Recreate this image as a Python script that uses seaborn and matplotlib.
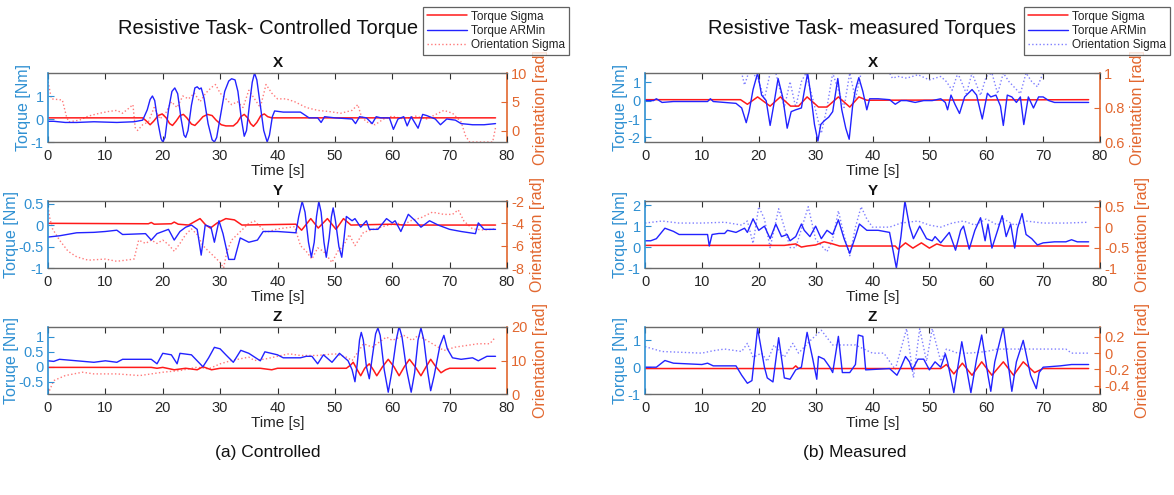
import matplotlib
matplotlib.use("Agg")
import matplotlib.pyplot as plt
from matplotlib.lines import Line2D
import seaborn as sns

sns.set_theme(style="white")
plt.rcParams["font.family"] = ["Liberation Sans", "DejaVu Sans"]

# ---------------- Controlled torque: X ----------------
ctrl_x_sig_t = [0, 16.5, 17.2, 17.8, 18.4, 19.2, 19.9, 20.6, 21.2, 21.7, 22.3, 23.0, 23.6, 24.2, 25.0, 25.6, 26.3,
                27.0, 27.8, 28.6, 29.3, 30.2, 31.0, 32.3, 33.0, 33.6, 34.2, 34.8, 35.3, 35.8, 36.4, 37.1, 37.7, 38.3,
                39.0, 78]
ctrl_x_sig = [0.05, 0.05, -0.1, -0.25, -0.1, 0.15, 0.22, 0.05, -0.2, -0.28, -0.1, 0.15, 0.2, 0.05, -0.22, -0.28,
              -0.1, 0.1, 0.2, 0.15, -0.05, -0.25, -0.3, -0.3, -0.15, 0.1, 0.2, 0.05, -0.2, -0.32, -0.15, 0.15, 0.22,
              0.1, 0.05, 0.05]
ctrl_x_arm_t = [0, 1, 3, 5, 8, 12, 15, 16.5, 17.3, 17.8, 18.2, 18.6, 19.2, 19.7, 20.0, 20.4, 21.0, 21.6, 22.1, 22.6,
                23.2, 23.7, 24.0, 24.4, 25.0, 25.6, 26.0, 26.4, 26.7, 27.2, 27.9, 28.6, 29.0, 29.4, 30.1, 30.8, 31.5,
                32.0, 32.6, 33.1, 33.7, 34.2, 34.6, 35.1, 35.6, 36.0, 36.4, 37.0, 37.6, 38.2, 38.6, 39.1, 39.5, 41,
                44, 45.5, 47, 47.6, 48.2, 50, 53, 53.6, 54.3, 55.5, 56.5, 57.2, 58, 59.5, 60.2, 61, 62, 62.6, 63.3,
                64.5, 65.3, 66, 67.5, 68.4, 69.5, 71, 72, 74, 76, 78]
ctrl_x_arm = [-0.1, -0.1, -0.15, -0.15, -0.12, -0.15, -0.12, -0.05, 0.4, 0.85, 1.0, 0.8, -0.2, -0.85, -1.0, -0.8,
              0.4, 1.2, 1.35, 1.1, 0.0, -0.7, -0.8, -0.5, 0.6, 1.35, 1.4, 1.3, 1.35, 0.9, -0.2, -0.9, -1.0, -0.8, 0.2,
              1.2, 1.65, 1.75, 1.7, 1.2, 0.0, -0.75, -0.5, 0.6, 1.6, 2.0, 1.7, 0.6, -0.5, -1.0, -0.7, 0.1, 0.35, 0.3,
              0.3, 0.05, 0.05, -0.15, 0.1, 0.05, 0.0, -0.2, 0.1, 0.05, -0.2, 0.1, 0.05, 0.05, -0.45, 0.0, 0.1, -0.3,
              0.1, -0.4, 0.2, 0.15, 0.0, -0.25, 0.0, -0.05, -0.2, -0.25, -0.25, -0.2]
ctrl_x_ori_t = [0, 0.3, 0.6, 2.5, 3.2, 3.6, 5.5, 7, 9, 10.5, 12, 13, 14, 14.8, 15.2, 15.6, 16.5, 17.5, 18.5, 19.5,
                20.5, 21.5, 22.5, 23.5, 24.5, 25.5, 26.5, 27.5, 28.5, 29.2, 30, 31, 32, 33, 34, 35, 36, 37, 38, 39,
                40, 41.5, 43, 45, 47, 49, 51, 53, 54, 54.6, 55.5, 57, 58.5, 60, 62, 64, 66, 68, 69, 70.5, 72, 72.8,
                73.5, 75, 77.5, 78]
ctrl_x_ori = [8.5, 7, 5.5, 5.3, 2.5, 1.5, 1.8, 2.5, 3.0, 3.3, 3.5, 3.0, 3.8, 4.5, 0.5, 0.0, 1.0, 1.5, 4.0, 2.0, 3.0,
              5.0, 4.0, 6.0, 5.5, 6.5, 5.0, 6.5, 7.5, 8.0, 6.5, 5.5, 4.5, 5.0, 4.0, 7.0, 5.5, 4.0, 8.0, 6.5, 5.5, 5.5,
              5.0, 4.0, 3.5, 3.3, 3.0, 3.5, 4.5, 2.5, 1.5, 1.0, 2.0, 2.5, 2.0, 2.5, 2.0, 3.0, 3.5, 3.0, 1.5, -1.0,
              -2.0, -2.0, -2.0, 0.5]

# ---------------- Controlled torque: Y ----------------
ctrl_y_sig_t = [0, 17.5, 18, 18.5, 21.5, 22, 22.7, 24.5, 26.5, 27.5, 28.3, 29.5, 31, 32.5, 33.8, 43.2, 44.2, 45.8,
                47.1, 48.7, 50.2, 51.5, 52.8, 60, 62, 78]
ctrl_y_sig = [0.04, 0.03, 0.06, 0.02, 0.03, 0.07, 0.02, 0.0, 0.15, 0.0, -0.07, 0.05, 0.15, 0.12, 0.0, 0.02, -0.12,
              0.15, -0.07, 0.15, -0.1, 0.15, 0.0, 0.02, 0.0, 0.0]
ctrl_y_arm_t = [0, 2, 5, 8, 10, 12, 13, 17, 18, 19, 21, 22, 23, 24, 25, 26, 26.7, 27.4, 28.4, 29.0, 29.8, 30.5, 31.5,
                32.5, 33.5, 35, 36.5, 37.5, 40, 43.2, 43.7, 44.3, 44.8, 45.4, 45.9, 46.4, 46.8, 47.2, 47.6, 48.1,
                48.5, 49.0, 49.4, 49.7, 50.1, 50.7, 51.2, 51.6, 52.0, 53, 53.5, 54.5, 55.5, 56, 57.5, 59, 60, 60.5,
                61.5, 62.8, 64, 65, 66.5, 68, 70, 72, 74.5, 75, 76, 78]
ctrl_y_arm = [-0.28, -0.25, -0.18, -0.17, -0.15, -0.12, -0.22, -0.2, -0.35, -0.2, -0.1, -0.35, -0.15, -0.05, 0.0,
              -0.1, -0.7, 0.0, -0.05, -0.4, 0.1, -0.2, -0.8, -0.8, -0.3, -0.4, -0.35, -0.15, -0.15, -0.18, 0.2, 0.55,
              0.3, -0.4, -0.75, -0.4, 0.2, 0.55, 0.3, -0.4, -0.75, -0.3, 0.2, 0.4, 0.1, -0.5, -0.75, -0.3, 0.2, 0.1,
              0.15, -0.05, 0.1, -0.1, -0.1, 0.15, 0.05, 0.1, -0.15, 0.25, 0.1, -0.05, 0.1, 0.0, -0.1, -0.15, -0.2,
              0.05, -0.1, -0.1]
ctrl_y_ori_t = [0, 0.3, 0.8, 2, 3.5, 5, 7, 10, 12, 15, 15.8, 17, 18, 19, 20, 21, 22, 23, 24, 25, 26, 27, 28, 29, 30,
                30.6, 31.2, 32, 33, 34, 35, 36, 37, 38, 40, 43, 44, 45, 46, 47, 48, 49.5, 50.5, 51.5, 52.5, 53.5, 55,
                57, 59, 61, 62, 63, 65, 67, 69, 70.5, 71.5, 72.5, 74, 76, 78]
ctrl_y_ori = [-2.5, -3.5, -4.5, -5.5, -6.5, -7.0, -7.3, -7.2, -7.4, -7.2, -5.5, -5.8, -5.5, -5.8, -5.5, -5.9, -6.5,
              -5.8, -5.0, -4.5, -5.0, -6.0, -6.5, -7.0, -7.5, -8.0, -6.5, -5.5, -5.0, -4.5, -4.0, -3.8, -4.3, -4.8,
              -4.5, -4.3, -6.0, -6.5, -7.2, -6.2, -6.5, -7.5, -6.5, -6.0, -5.0, -6.0, -4.8, -4.5, -4.2, -4.0, -4.2,
              -3.8, -3.5, -3.0, -3.2, -3.2, -2.8, -3.8, -4.5, -4.6, -4.5]

# ---------------- Controlled torque: Z ----------------
ctrl_z_sig_t = [0, 18, 19, 20, 22, 24, 26, 27, 28.5, 30, 36, 37, 39, 40, 52, 52.7, 53.2, 53.9, 54.5, 55.2, 56.0,
                56.7, 57.3, 58.3, 59.3, 60.3, 61.2, 62.1, 63.0, 64.0, 65.0, 65.9, 66.7, 67.6, 68.5, 69.3, 70, 78]
ctrl_z_sig = [-0.02, -0.02, -0.05, -0.02, -0.1, -0.05, -0.1, 0.0, -0.1, -0.05, -0.05, -0.05, -0.1, -0.05, -0.05,
              0.05, 0.15, -0.1, -0.3, -0.05, 0.1, -0.1, -0.3, 0.0, 0.25, 0.0, -0.3, 0.0, 0.25, 0.0, -0.3, 0.0, 0.25,
              0.0, -0.2, -0.1, -0.05, -0.05]
ctrl_z_arm_t = [0, 1, 2, 5, 8, 10, 12, 13, 18, 19, 20, 21.5, 22.5, 23, 25, 26.5, 27, 28, 29, 30, 31, 32.3, 33.6, 35,
                37, 37.8, 40, 41, 44, 45, 46, 47, 48, 49.5, 50.8, 52.3, 53.0, 53.5, 53.9, 54.3, 54.6, 54.95, 55.5,
                56.0, 56.5, 57.1, 57.5, 57.9, 58.6, 59.3, 59.9, 60.7, 61.2, 61.7, 62.5, 63.3, 63.9, 64.5, 65.0, 65.5,
                66.2, 66.7, 67.3, 68.3, 69.0, 69.6, 70.5, 72, 74, 75, 76.5, 78]
ctrl_z_arm = [0.2, 0.18, 0.25, 0.2, 0.15, 0.2, 0.15, 0.25, 0.25, 0.1, 0.45, 0.4, 0.1, 0.45, 0.4, 0.1, 0.0, 0.3, 0.65,
              0.6, 0.4, 0.15, 0.55, 0.45, 0.2, 0.5, 0.4, 0.3, 0.3, 0.35, 0.35, 0.1, 0.4, 0.15, 0.45, 0.2, -0.1, -0.5,
              0.1, 0.9, 1.15, 0.9, 0.0, -0.4, 0.3, 1.1, 1.3, 1.05, -0.1, -0.85, -0.2, 0.9, 1.35, 1.0, -0.1, -0.85,
              -0.2, 0.9, 1.3, 0.9, -0.2, -0.8, -0.3, 0.7, 1.05, 0.6, 0.3, 0.25, 0.3, 0.2, 0.35, 0.35]
ctrl_z_ori_t = [0, 0.5, 1, 3, 6, 8, 12, 16, 20, 23, 26, 28, 30, 32, 35, 36, 38, 42, 44, 47, 50, 52, 53, 55, 56.5, 59,
                60, 62, 63.5, 64.5, 67, 69, 71, 73, 75, 77, 78]
ctrl_z_ori = [0, 2, 4, 5.5, 6.5, 6, 6, 5.5, 6.5, 7, 8, 7.5, 9, 10, 11, 10, 10.5, 12, 11.5, 11.5, 12, 11, 10, 15, 14,
              17, 16, 17.5, 16, 17.5, 15, 13, 14, 14.5, 15, 15, 17]

# ---------------- Measured torques: X ----------------
meas_x_sig_t = [0, 16.8, 18.0, 19.8, 22.0, 23.8, 25.6, 27.0, 28.5, 30.5, 32.0, 34.0, 36.0, 37.6, 39.0, 78]
meas_x_sig = [0.05, 0.05, -0.2, 0.2, -0.3, 0.2, -0.3, -0.3, 0.2, -0.35, -0.35, 0.2, -0.35, 0.2, 0.02, 0.05]
meas_x_arm_t = [0, 1.5, 2, 3, 5, 8, 11, 11.5, 12, 14, 16, 17, 17.8, 18.3, 19.0, 19.8, 20.5, 21.3, 22.0, 22.6, 23.4,
                24.2, 25.0, 25.7, 26.5, 27.5, 28.0, 28.6, 29.2, 29.8, 30.4, 30.9, 31.5, 32.3, 33.0, 33.9, 34.6, 35.3,
                35.9, 36.5, 37.0, 37.6, 38.3, 39.0, 39.5, 41, 43, 44, 45, 46, 47.5, 49, 50.5, 52, 52.8, 53.2, 53.8,
                54.5, 55.3, 56.2, 57.5, 58.3, 59.3, 60.2, 60.8, 61.7, 62.5, 63.0, 63.7, 64.5, 65.3, 66.0, 66.6, 67.4,
                68.3, 69.2, 70, 71, 72, 75, 78]
meas_x_arm = [0.0, 0.0, 0.1, -0.1, -0.05, -0.05, -0.05, 0.1, -0.05, -0.1, -0.15, -0.4, -1.2, -0.6, 0.6, 1.5, 0.3,
              0.0, -1.35, -0.3, 1.2, 0.2, -1.5, -0.6, -0.5, -0.4, 0.5, 1.5, 0.2, -1.3, -2.2, -1.3, -1.1, -0.9, -0.6,
              1.2, -0.5, -1.5, -2.1, -0.3, 0.6, 1.25, 0.5, -0.5, 0.1, 0.1, 0.05, -0.2, 0.0, 0.0, -0.1, 0.0, 0.0, 0.1,
              -0.1, -0.5, 0.3, -0.2, -0.7, 0.2, 0.6, 0.3, -1.0, 0.4, 0.2, 0.3, -0.3, -1.35, 0.3, 0.2, -0.1, 0.2,
              -1.3, 0.2, -0.4, 0.2, 0.2, 0.0, -0.1, -0.1, -0.1]
meas_x_ori_t = [0, 17, 17.5, 18.2, 19, 20, 21, 22, 23, 24.5, 25.5, 26.5, 27.5, 28.3, 29.5, 31, 32, 33, 35, 36, 37, 38,
                39, 43, 43.5, 44.5, 46, 48, 50, 52, 53, 54, 55, 56.5, 57.5, 59, 60, 61, 62, 63, 64, 66, 67, 68, 69,
                70, 78]
meas_x_ori = [1.0, 1.0, 0.93, 1.0, 1.0, 0.95, 0.85, 1.0, 1.0, 0.8, 0.95, 0.8, 0.95, 1.0, 0.85, 0.65, 0.8, 1.0, 0.8,
              1.0, 0.85, 1.0, 1.0, 1.0, 0.97, 0.98, 0.97, 0.99, 0.96, 0.98, 0.95, 0.9, 1.0, 0.88, 1.0, 0.87, 0.98,
              1.0, 0.88, 1.0, 0.95, 0.88, 1.0, 0.95, 0.92, 1.0, 1.0]

# ---------------- Measured torques: Y ----------------
meas_y_sig_t = [0, 24.5, 26.5, 27.5, 28.5, 30, 31.5, 33, 34.2, 44, 44.5, 45.8, 47.1, 48.6, 50, 51.3, 52.5, 78]
meas_y_sig = [0.08, 0.08, 0.15, 0.0, 0.05, 0.1, 0.25, 0.15, 0.05, 0.05, -0.1, 0.2, -0.05, 0.2, -0.05, 0.15, 0.05, 0.05]
meas_y_arm_t = [0, 1, 2, 3.5, 5, 6, 11, 11.3, 11.8, 13, 14, 14.5, 16, 17.5, 18, 19, 20, 21, 22, 23, 24, 25, 25.5,
                26.5, 27.5, 28, 29, 30, 31, 32, 33, 34, 35, 36, 37, 37.7, 39, 41, 43, 44.2, 45, 45.7, 46.5, 47.2,
                48.3, 49.5, 50.5, 51, 52, 53.5, 54.6, 55.5, 56, 57, 58, 59, 59.8, 60.3, 61, 62, 62.8, 63.5, 64.3, 65,
                65.5, 66.3, 67, 68, 69, 70, 72, 74, 75, 76, 78]
meas_y_arm = [0.3, 0.3, 0.4, 0.9, 0.75, 0.6, 0.6, 0.05, 0.6, 0.65, 0.65, 0.8, 0.7, 0.9, 0.7, 1.35, 0.8, 1.0, 0.4,
              1.1, 0.5, 0.6, 0.3, 0.5, 1.1, 0.8, 0.5, 1.0, 0.4, 0.8, 0.6, 1.3, 0.4, -0.3, 0.5, 1.1, 0.8, 0.8, 0.7,
              -1.0, 0.5, 2.2, 1.0, 0.4, 1.0, 0.4, 0.3, 0.5, 0.2, 0.7, -0.15, 0.8, 1.0, -0.1, 0.8, 1.4, 0.3, 1.1,
              -0.05, 0.8, 1.5, 0.5, 1.1, -0.05, 0.9, 1.6, 0.6, 0.4, 0.1, 0.2, 0.25, 0.25, 0.35, 0.25, 0.25]
meas_y_ori_t = [0, 3, 6, 10, 14, 17, 18, 19, 20, 21, 22, 23.5, 24.5, 25.5, 26.5, 28.7, 30, 32, 33, 34, 35, 36, 37, 38,
                39, 40, 43, 45, 48, 50, 52, 54, 56, 58, 60, 62, 63, 65, 67, 70, 74, 78]
meas_y_ori = [0.1, 0.15, 0.1, 0.1, 0.12, 0.05, 0.15, -0.4, 0.5, 0.2, -0.5, 0.45, 0.0, -0.5, -0.5, 0.5, -0.3, -0.6,
              -0.3, 0.4, -0.2, -0.7, 0.0, 0.5, 0.2, 0.0, 0.0, 0.1, 0.15, 0.05, 0.0, 0.1, 0.15, 0.05, 0.2, 0.05, 0.2,
              0.05, 0.15, 0.1, 0.1, 0.12]

# ---------------- Measured torques: Z ----------------
meas_z_sig_t = [0, 17, 26, 26.5, 27, 52, 53, 54.3, 55.8, 57.5, 59.2, 61, 63, 64.8, 66.5, 68.5, 70, 78]
meas_z_sig = [-0.05, -0.05, -0.05, 0.05, -0.05, -0.05, 0.1, -0.25, 0.15, -0.3, 0.2, -0.3, 0.2, -0.3, 0.2, -0.2,
              -0.05, -0.05]
meas_z_arm_t = [0, 2, 3.5, 5, 10, 11, 12, 16, 17, 18, 18.8, 19.8, 21, 21.5, 22.5, 23.5, 24.5, 25.5, 26.5, 27.5, 28.5,
                29.5, 30.2, 30.5, 31.5, 32.5, 33, 34, 34.7, 36, 37, 37.5, 38.3, 38.8, 43, 44.3, 45, 45.8, 46.5, 47,
                48, 49, 50, 51, 52, 52.8, 53.2, 54.3, 55.7, 57.3, 58.3, 59.2, 60.3, 60.8, 61.5, 63, 64.5, 65.3, 66.5,
                67.8, 68.8, 69.3, 70, 73, 75, 78]
meas_z_arm = [0, 0, 0.25, 0.15, 0.1, 0.15, 0.05, 0.05, -0.3, -0.6, -0.5, 1.45, 0, -0.4, -0.55, 1.1, -0.4, -0.45,
              -0.1, 0, 1.3, 0.3, -0.45, 0.4, 0.3, 0, -0.2, 1.15, -0.2, -0.2, 0.1, 1.2, 1.15, -0.1, -0.05, -0.3, 0,
              0.4, 0.2, -0.1, 0.3, 0.3, -0.1, 0.2, 0, 0.5, 0.2, -0.95, 0.95, -0.95, 0.3, 1.2, -0.3, -0.9, 0.2, 1.5,
              -0.9, 0.2, 1.0, -0.3, -0.8, -0.2, 0, 0.05, 0.1, 0.1]
meas_z_ori_t = [0, 3, 10, 12, 14, 17, 18, 19, 20.5, 21.5, 22.7, 24.5, 26, 27, 29, 31, 33, 37, 40, 42, 44, 46, 47.2,
                48.3, 49.5, 50.5, 52, 53, 55, 57, 60, 62, 65, 70, 74, 75, 78]
meas_z_ori = [0.08, 0.02, 0.0, 0.03, 0.05, 0.02, 0.12, -0.05, 0.0, -0.1, 0.1, -0.05, 0.12, 0.0, 0.15, 0.28, 0.1, 0.1,
              0.0, 0.0, -0.2, 0.3, -0.3, 0.3, -0.1, 0.3, -0.1, 0.05, 0.0, 0.0, 0.02, 0.05, 0.05, 0.05, 0.05, 0.0, 0.0]

# ---------------- Text ----------------
legend_labels = ["Torque Sigma", "Torque ARMin", "Orientation Sigma"]
time_ticks = [0, 10, 20, 30, 40, 50, 60, 70, 80]

C_LEFT = "#2f90d2"
C_RIGHT = "#e2672f"
C_FRAME = "#6a6a6a"
C_SIG = "#ff1a1a"
C_ARM = "#2222ff"
C_ORI_RED = "#ff7a7a"
C_ORI_BLUE = "#7f7fff"

W, H = 1174, 495
fig = plt.figure(figsize=(W / 100, H / 100), dpi=100)


def rect(x0, x1, y0, y1):
    return [x0 / W, 1 - y1 / H, (x1 - x0) / W, (y1 - y0) / H]


def fmt(v):
    return ("%g" % v)


def panel(r, title, ylabel, sig, arm, ori, ori_color, lim_l, ticks_l, lim_r, ticks_r):
    ax = fig.add_axes(r)
    ax2 = ax.twinx()
    ax.set_zorder(ax2.get_zorder() + 1)
    ax.patch.set_visible(False)

    sns.lineplot(x=ori[0], y=ori[1], ax=ax2, color=ori_color, lw=1.0, ls=":",
                 estimator=None, sort=False, legend=False)
    sns.lineplot(x=sig[0], y=sig[1], ax=ax, color=C_SIG, lw=1.1,
                 estimator=None, sort=False, legend=False)
    sns.lineplot(x=arm[0], y=arm[1], ax=ax, color=C_ARM, lw=1.0,
                 estimator=None, sort=False, legend=False)

    ax.set_xlim(0, 80)
    ax.set_ylim(*lim_l)
    ax2.set_ylim(*lim_r)
    ax.set_xticks(time_ticks)
    ax.set_xticklabels([fmt(v) for v in time_ticks])
    ax.set_yticks(ticks_l)
    ax.set_yticklabels([fmt(v) for v in ticks_l])
    ax2.set_yticks(ticks_r)
    ax2.set_yticklabels([fmt(v) for v in ticks_r])

    ax.tick_params(axis="x", direction="in", length=4, width=0.8, colors="#303030",
                   labelcolor="#262626", labelsize=10.5, top=True, bottom=True, pad=5)
    ax.tick_params(axis="y", direction="in", length=4, width=0.8, colors=C_LEFT,
                   labelsize=10.5, left=True, right=False, pad=3)
    ax2.tick_params(axis="y", direction="in", length=4, width=0.8, colors=C_RIGHT,
                    labelsize=10.5, right=True, left=False, pad=3)

    for s in ["top", "bottom"]:
        ax.spines[s].set_color(C_FRAME)
        ax.spines[s].set_linewidth(1.0)
    ax.spines["left"].set_color(C_LEFT)
    ax.spines["left"].set_linewidth(1.2)
    ax.spines["right"].set_visible(False)
    for s in ["top", "bottom", "left"]:
        ax2.spines[s].set_visible(False)
    ax2.spines["right"].set_color(C_RIGHT)
    ax2.spines["right"].set_linewidth(1.2)

    ax.set_title(title, fontsize=11, fontweight="bold", color="#111111", pad=4)
    ax.set_xlabel("Time [s]", fontsize=11, color="#262626", labelpad=1)
    ax.set_ylabel(ylabel, fontsize=11.5, color=C_LEFT, labelpad=0)
    ax2.set_ylabel("Orientation [rad]", fontsize=11.5, color=C_RIGHT, labelpad=4)
    ax.grid(False)
    ax2.grid(False)
    return ax


LX0, LX1 = 48, 507
RX0, RX1 = 645, 1100
rows = [(73, 142), (201, 268), (327, 394)]

panel(rect(LX0, LX1, *rows[0]), "X", "Torque [Nm]",
      (ctrl_x_sig_t, ctrl_x_sig), (ctrl_x_arm_t, ctrl_x_arm), (ctrl_x_ori_t, ctrl_x_ori), C_ORI_RED,
      (-1, 2), [-1, 0, 1], (-2, 10), [0, 5, 10])
panel(rect(LX0, LX1, *rows[1]), "Y", "Torque [Nm]",
      (ctrl_y_sig_t, ctrl_y_sig), (ctrl_y_arm_t, ctrl_y_arm), (ctrl_y_ori_t, ctrl_y_ori), C_ORI_RED,
      (-1, 0.56), [-1, -0.5, 0, 0.5], (-8, -2), [-8, -6, -4, -2])
panel(rect(LX0, LX1, *rows[2]), "Z", "Toruqe [Nm]",
      (ctrl_z_sig_t, ctrl_z_sig), (ctrl_z_arm_t, ctrl_z_arm), (ctrl_z_ori_t, ctrl_z_ori), C_ORI_RED,
      (-0.91, 1.33), [-0.5, 0, 0.5, 1], (0, 20), [0, 10, 20])

panel(rect(RX0, RX1, *rows[0]), "X", "Torque [Nm]",
      (meas_x_sig_t, meas_x_sig), (meas_x_arm_t, meas_x_arm), (meas_x_ori_t, meas_x_ori), C_ORI_BLUE,
      (-2.25, 1.5), [-2, -1, 0, 1], (0.6, 1.0), [0.6, 0.8, 1])
panel(rect(RX0, RX1, *rows[1]), "Y", "Torque [Nm]",
      (meas_y_sig_t, meas_y_sig), (meas_y_arm_t, meas_y_arm), (meas_y_ori_t, meas_y_ori), C_ORI_BLUE,
      (-1, 2.2), [-1, 0, 1, 2], (-1, 0.64), [-1, -0.5, 0, 0.5])
panel(rect(RX0, RX1, *rows[2]), "Z", "Torque [Nm]",
      (meas_z_sig_t, meas_z_sig), (meas_z_arm_t, meas_z_arm), (meas_z_ori_t, meas_z_ori), C_ORI_BLUE,
      (-1, 1.5), [-1, 0, 1], (-0.5, 0.32), [-0.4, -0.2, 0, 0.2])

# Figure titles
fig.text(268 / W, 1 - 28 / H, "Resistive Task- Controlled Torque", ha="center", va="center",
         fontsize=14.5, color="#111111")
fig.text(862 / W, 1 - 28 / H, "Resistive Task- measured Torques", ha="center", va="center",
         fontsize=14.5, color="#111111")


def add_legend(x_left, ori_color):
    handles = [Line2D([], [], color=C_SIG, lw=1.1),
               Line2D([], [], color=C_ARM, lw=1.0),
               Line2D([], [], color=ori_color, lw=1.0, ls=":")]
    leg = fig.legend(handles, legend_labels, loc="upper left",
                     bbox_to_anchor=(x_left / W, 1 - 7 / H), fontsize=8.5,
                     frameon=True, fancybox=False, shadow=False, handlelength=3.4,
                     handletextpad=0.4, borderpad=0.3, labelspacing=0.2, borderaxespad=0)
    leg.get_frame().set_edgecolor("#3a3a3a")
    leg.get_frame().set_linewidth(0.9)
    for t in leg.get_texts():
        t.set_color("#222222")


add_legend(423, C_ORI_RED)
add_legend(1024, C_ORI_BLUE)

# Sub-captions
fig.text(268 / W, 1 - 452 / H, "(a) Controlled", ha="center", va="center", fontsize=12.5, color="#111111")
fig.text(855 / W, 1 - 452 / H, "(b) Measured", ha="center", va="center", fontsize=12.5, color="#111111")

fig.savefig("out.png", dpi=100)
